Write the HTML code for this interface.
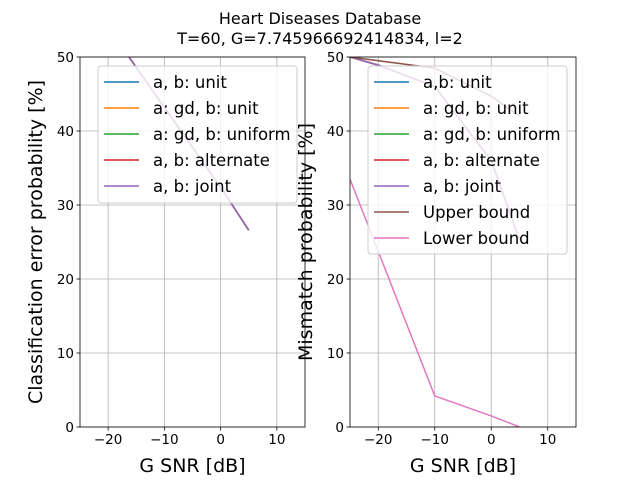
<!DOCTYPE html>
<html><head><meta charset="utf-8"><style>body{margin:0;background:#fff}svg{display:block;font-family:"DejaVu Sans","Liberation Sans",sans-serif}</style></head>
<body>
<svg id="c" width="640" height="480"></svg>
<script>
const xTicks=[-20,-10,0,10];
const yTicks=[0,10,20,30,40,50];
const leftX=[-20,-10,0,5];
const leftY=[54,43.2,32.4,26.6];
const leftNames=["a, b: unit","a: gd, b: unit","a: gd, b: uniform","a, b: alternate","a, b: joint"];
const rightX=[-25,-20,-10,0,5];
const jointY=[50,48.9,46,36,25.3];
const upperX=[-25,-10,0,5];
const upperY=[50,48.5,44.7,42];
const lowerX=[-25,-10,0,5];
const lowerY=[33.5,4.2,1.5,0];
const rightNames=["a,b: unit","a: gd, b: unit","a: gd, b: uniform","a, b: alternate","a, b: joint","Upper bound","Lower bound"];
const colors=["#1f77b4","#ff7f0e","#2ca02c","#d62728","#9467bd","#8c564b","#e377c2"];
const NS="http://www.w3.org/2000/svg";
const svg=document.getElementById('c');
function el(t,a,p){const e=document.createElementNS(NS,t);for(const k in a)e.setAttribute(k,a[k]);(p||svg).appendChild(e);return e;}
function txt(s,a,p){const e=el('text',a,p);e.textContent=s;return e;}
const t1=txt("Heart Diseases Database",{x:320,y:24,'text-anchor':'middle','font-size':16});


const t2=txt("T=60, G=7.745966692414834, l=2",{x:320,y:44,'text-anchor':'middle','font-size':16});


function panel(L,R,ylabel,series,names,legH,id){
  const T=57,B=427;
  const sx=v=>L+(v+25)/40*(R-L), sy=v=>B-v/50*(B-T);
  const g=el('g',{});
  
  
  const cid=id+'clip';
  const cp=el('clipPath',{id:cid},g);el('rect',{x:L,y:T,width:R-L,height:B-T},cp);
  xTicks.forEach(v=>{const x=sx(v);
    const gl=el('line',{x1:x,x2:x,y1:T,y2:B,stroke:'#b0b0b0','stroke-width':0.8},g);
    
    
    el('line',{x1:x,x2:x,y1:B,y2:B+3.5,stroke:'#000','stroke-width':0.8},g);
    const t=txt(v<0?'\u2212'+(-v):String(v),{x:x,y:B+17,'text-anchor':'middle','font-size':13.5},g);
    
    });
  yTicks.forEach(v=>{const y=sy(v);
    const gl=el('line',{x1:L,x2:R,y1:y,y2:y,stroke:'#b0b0b0','stroke-width':0.8},g);
    
    
    el('line',{x1:L-3.5,x2:L,y1:y,y2:y,stroke:'#000','stroke-width':0.8},g);
    const t=txt(String(v),{x:L-6,y:y+5,'text-anchor':'end','font-size':13.5},g);
    
    });
  const lg=el('g',{'clip-path':'url(#'+cid+')'},g);
  series.forEach(s=>{
    const p=el('polyline',{points:s.x.map((v,i)=>sx(v)+','+sy(s.y[i])).join(' '),fill:'none',stroke:s.c,'stroke-width':1.5},lg);
    
    });
  el('rect',{x:L,y:T,width:R-L,height:B-T,fill:'none',stroke:'#000','stroke-width':0.8},g);
  const xl=txt("G SNR [dB]",{x:(L+R)/2,y:472,'text-anchor':'middle','font-size':19},g);
  
  
  const yl=txt(ylabel,{x:0,y:0,'text-anchor':'middle','font-size':19,transform:`translate(${L-38},${(T+B)/2}) rotate(-90)`},g);
  
  
  const lx=L+18,ly=66;
  const leg=el('g',{},g);
  
  
  el('rect',{x:lx,y:ly,width:199,height:legH,rx:3,fill:'#fff','fill-opacity':0.8,stroke:'#ccc'},leg);
  names.forEach((n,i)=>{const y=ly+16+i*26;
    const e=el('g',{},leg);
    
    
    el('line',{x1:lx+6,x2:lx+41,y1:y,y2:y,stroke:colors[i],'stroke-width':1.5},e);
    txt(n,{x:lx+55,y:y+6,'font-size':16.5},e);});
}
panel(80,305,"Classification error probability [%]",
  [0,1,2,3,4].map(i=>({x:leftX,y:leftY,c:colors[i],n:'series-'+i})),leftNames,137,'left');
panel(350,576,"Mismatch probability [%]",
  [0,1,2,3,4].map(i=>({x:rightX,y:jointY,c:colors[i],n:'mismatch-series-'+i})).concat([
   {x:upperX,y:upperY,c:colors[5],n:'upper-bound-line'},{x:lowerX,y:lowerY,c:colors[6],n:'lower-bound-line'}]),rightNames,188,'right');
</script>
</body></html>
